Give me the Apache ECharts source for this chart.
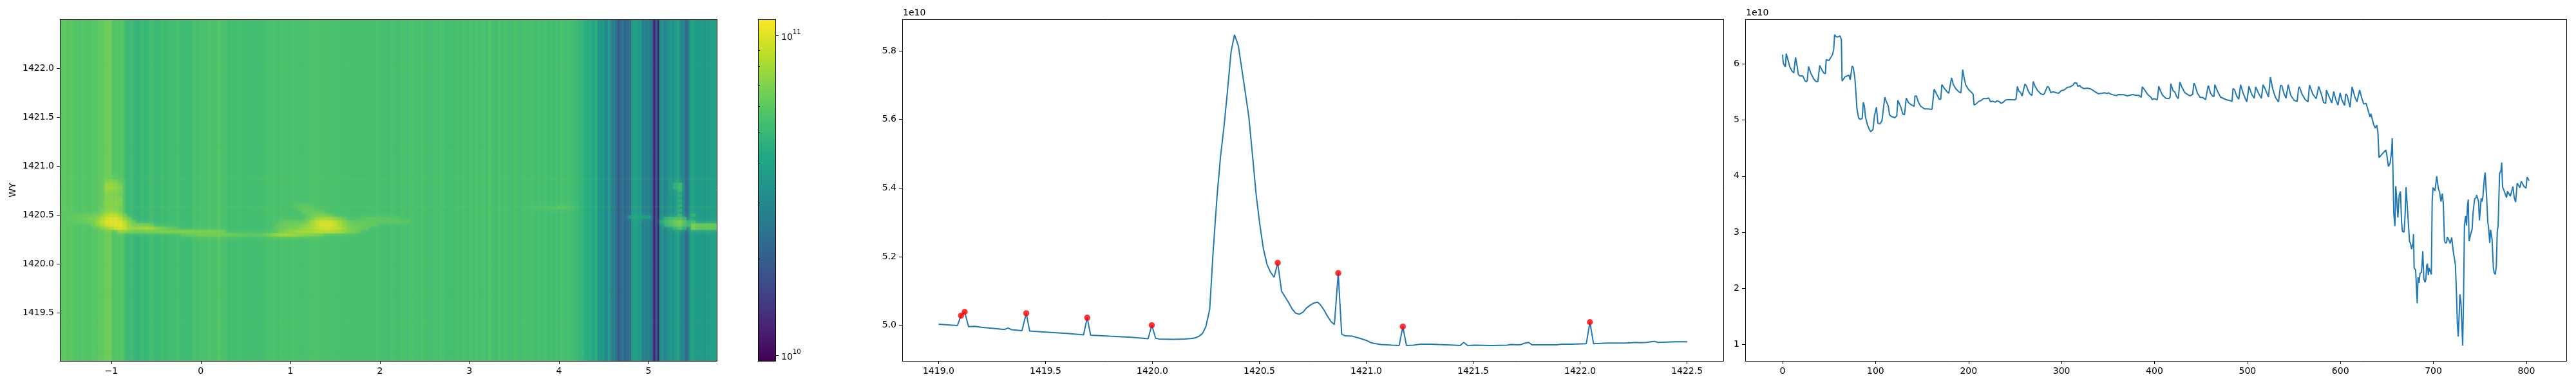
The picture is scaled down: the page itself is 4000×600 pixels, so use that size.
<!DOCTYPE html>
<html><head><meta charset="utf-8">
<style>html,body{margin:0;padding:0;background:#fff}#c{width:4000px;height:600px}</style>
<script src="https://cdn.jsdelivr.net/npm/echarts@6/dist/echarts.min.js"></script>
</head><body><div id="c"></div>
<script>
// ---- tick labels ----
const imgXTicks=[-1,0,1,2,3,4,5];
const imgYTicks=[1419.5,1420,1420.5,1421,1421.5,1422];
const profXTicks=[1419,1419.5,1420,1420.5,1421,1421.5,1422,1422.5];
const profYTicks=[5,5.2,5.4,5.6,5.8];
const scanXTicks=[0,100,200,300,400,500,600,700,800];
const scanYTicks=[1,2,3,4,5,6];
const cbarMajor=[10,11];
const cbarMinor=[2e10,3e10,4e10,5e10,6e10,7e10,8e10,9e10];

// ---- middle panel: profile vs WY (units of 1e10) ----
const profileX=[1419,1419.088,1419.105,1419.122,1419.14,1419.17,1419.2,1419.25,1419.3,1419.31,1419.325,1419.34,1419.39,1419.41,1419.426,1419.5,1419.6,1419.678,1419.695,1419.711,1419.8,1419.9,1419.98,1419.997,1420.015,1420.03,1420.1,1420.15,1420.18,1420.2,1420.218,1420.234,1420.25,1420.268,1420.284,1420.302,1420.318,1420.334,1420.35,1420.368,1420.384,1420.402,1420.418,1420.435,1420.451,1420.469,1420.485,1420.502,1420.519,1420.536,1420.552,1420.569,1420.586,1420.604,1420.62,1420.636,1420.654,1420.67,1420.687,1420.704,1420.72,1420.737,1420.755,1420.772,1420.785,1420.8,1420.816,1420.835,1420.851,1420.869,1420.885,1420.902,1420.935,1420.969,1421.004,1421.019,1421.035,1421.068,1421.12,1421.154,1421.171,1421.188,1421.221,1421.254,1421.304,1421.338,1421.41,1421.439,1421.456,1421.474,1421.506,1421.585,1421.66,1421.675,1421.71,1421.725,1421.743,1421.759,1421.775,1421.825,1421.891,1421.916,1421.96,1422.029,1422.046,1422.063,1422.129,1422.21,1422.241,1422.263,1422.28,1422.31,1422.348,1422.364,1422.448,1422.501];
const profileY=[5.003,4.999,5.028,5.039,4.996,4.997,4.994,4.991,4.988,4.988,4.992,4.987,4.984,5.035,4.983,4.98,4.976,4.972,5.022,4.971,4.968,4.965,4.9605,5,4.962,4.96,4.959,4.96,4.961,4.963,4.968,4.976,4.996,5.047,5.216,5.374,5.489,5.575,5.676,5.798,5.847,5.814,5.747,5.676,5.607,5.489,5.381,5.295,5.223,5.177,5.155,5.14,5.182,5.099,5.083,5.067,5.047,5.035,5.032,5.038,5.05,5.058,5.065,5.067,5.06,5.047,5.029,5.011,5.002,5.152,4.974,4.969,4.968,4.962,4.955,4.95,4.947,4.944,4.942,4.941,4.996,4.941,4.942,4.945,4.945,4.944,4.942,4.941,4.95,4.941,4.942,4.941,4.942,4.944,4.943,4.944,4.948,4.95,4.943,4.943,4.943,4.945,4.945,4.946,5.009,4.946,4.948,4.948,4.949,4.95,4.949,4.95,4.953,4.95,4.952,4.952];
const peakX=[1419.105,1419.122,1419.41,1419.695,1419.997,1420.586,1420.869,1421.171,1422.046];
const peakY=[5.028,5.039,5.035,5.022,5,5.182,5.152,4.996,5.009];

// ---- right panel: scan profile (units of 1e10) ----
const scanIdx=[0,0.7,1.8,3,3.9,4.8,6.5,7.8,9,10.2,12,13.9,15.7,16.9,18.7,21.7,23.8,25.6,26.5,27.9,30.2,33.7,36,37.9,39.9,42.5,44.6,46,46.9,48,49.9,51.5,53.6,55,55.9,57.3,59,61.9,63.2,64,65,67.2,69.5,70.6,71.3,72.7,73.9,74.8,76,77.6,79,79.9,81.7,83.3,85.6,86.8,88,89.1,91.4,93,94.6,97.2,98.8,100,100.9,102.5,104.6,106.9,108,109.9,111.7,113.6,115,116.8,119,120.5,122.8,124,125.3,127.2,129.3,131.1,133,135.3,138,141.5,142.4,144,145.9,148.4,152.6,156,157.2,160.7,163,166.4,168.7,170.1,171.3,174,176.3,178.7,180,181.7,183.7,186.5,189.5,191.8,193.7,195.3,196.9,199.9,203.4,205,205.9,208,211,213.7,216,219.5,221.8,223.7,225.7,228.7,230.4,232.7,235.2,237.3,239.6,241.9,243,246,249.5,251.1,252.5,254.1,255.8,257.6,258.5,260.6,262.2,264,266.4,268.2,269.6,271.5,274.2,277.9,280.2,281.8,284.8,286.2,288.5,291.1,294.5,296.8,299.6,302.6,306.5,309.5,312.5,313.7,316.2,317.6,319.5,320.6,323.8,327.9,331.5,335,339.5,346.5,348.8,350.6,353.4,359.2,361,367.2,370.7,376.5,380,383.4,385.7,386.9,387.8,389.6,392.6,396.1,397.7,399.1,403,404.6,406.5,408.8,412.3,415.7,416.9,417.6,419.9,422,423.8,425.6,427.3,429.3,432.6,435.3,438.1,441.1,442.3,443.4,446.2,449.2,452,455,456.1,457.3,458,460.3,462.6,464,464.9,467.7,471.1,474.6,476.9,480.4,483.4,484.5,486.1,488.4,490.7,492.6,495.4,497.7,499.3,501.6,504.6,507.4,508.8,509.9,512.7,515,516.8,519.6,522.6,524.7,527.2,530,533.4,534.6,535.5,536.9,539.2,541.5,543.8,546.6,550.3,553.5,554.9,555.8,558.8,562.3,565.1,566.7,570.4,574,575,576.6,579.6,581.9,584.2,584.9,586.1,588.2,590.7,592.8,595.1,597.4,599.7,601.5,604.5,605.7,607.3,610.3,612.6,615.4,617.7,618.9,620.7,623.5,625.1,627.5,629.7,631.8,632.8,635.9,637.4,639,640.3,641.5,643.6,644.5,646.6,648.9,650,651.6,653.5,655.1,655.8,656.7,657.4,658.6,659.5,660.6,661.8,663.2,664.6,665.7,666.6,668.5,669.6,670.6,671.7,673.1,674.3,675.4,676.6,678.2,678.6,679.3,680.9,681.6,682.6,683.5,684.6,685.6,687,687.7,688.6,689.7,691.1,692,692.7,693.6,694.6,695.5,696.7,697.8,698.7,699.6,700.8,701.7,703.6,705.4,706.6,708.2,708.9,709.6,710.7,711.9,712.8,714.2,714.9,717,718.1,719.7,721.6,723.7,725,725.7,726.7,727.8,728.5,729.7,730.6,731.5,732.4,733.4,734.7,735.7,736.6,737.5,738.4,740,741.7,742.6,743.5,744.4,746,746.5,748.6,749.5,750.2,751.4,752.3,753.2,754.8,755.7,757.4,758.5,759.4,760.6,761.5,763.1,764.5,765.4,766.6,767.7,768.7,769.6,771.2,772.6,773.5,774.4,775.4,776.5,777.7,778.6,779.7,782.8,783.9,785.5,786.9,788.5,790.1,791.3,793.1,794.5,795.4,797.3,799.6,800.8,802.8];
const scanVal=[6.166,6.013,5.983,5.948,6.185,6.166,6.03,5.945,5.925,5.872,5.84,6.117,5.956,5.81,5.788,5.788,5.708,5.68,5.708,5.956,5.84,5.727,5.688,5.685,5.975,5.887,5.834,5.826,6.078,6.086,6.063,6.109,6.166,6.262,6.522,6.491,6.48,6.499,6.434,5.696,5.688,5.772,5.788,5.772,5.803,5.719,5.708,5.964,5.937,5.765,5.459,5.211,5.039,5.012,5.027,5.318,5.249,5.058,4.905,4.847,4.794,4.829,5.077,5.085,5.23,4.943,4.932,4.989,4.993,5.409,5.325,5.256,5.096,5.065,5.054,5.039,5.077,5.352,5.352,5.23,5.108,5.096,5.394,5.314,5.276,5.245,5.428,5.428,5.325,5.249,5.199,5.2,5.184,5.191,5.551,5.44,5.367,5.375,5.631,5.566,5.516,5.478,5.486,5.753,5.631,5.555,5.505,5.486,5.899,5.746,5.631,5.547,5.49,5.459,5.268,5.287,5.333,5.352,5.383,5.383,5.394,5.325,5.337,5.318,5.344,5.333,5.298,5.318,5.356,5.364,5.344,5.364,5.36,5.375,5.6,5.516,5.497,5.428,5.44,5.642,5.612,5.528,5.459,5.44,5.688,5.604,5.528,5.467,5.451,5.478,5.6,5.585,5.489,5.505,5.486,5.478,5.524,5.536,5.585,5.593,5.623,5.661,5.665,5.6,5.619,5.593,5.562,5.57,5.555,5.516,5.47,5.486,5.474,5.486,5.459,5.436,5.455,5.451,5.432,5.455,5.44,5.44,5.405,5.593,5.612,5.535,5.459,5.409,5.363,5.383,5.363,5.604,5.516,5.44,5.39,5.383,5.42,5.65,5.527,5.497,5.42,5.383,5.677,5.593,5.49,5.459,5.432,5.459,5.658,5.631,5.478,5.405,5.402,5.364,5.356,5.574,5.616,5.478,5.428,5.42,5.631,5.516,5.409,5.383,5.364,5.352,5.333,5.562,5.543,5.428,5.371,5.631,5.478,5.383,5.325,5.604,5.459,5.39,5.593,5.604,5.451,5.39,5.631,5.535,5.409,5.765,5.555,5.409,5.325,5.325,5.612,5.619,5.478,5.39,5.631,5.44,5.352,5.333,5.562,5.593,5.459,5.363,5.325,5.623,5.459,5.383,5.363,5.6,5.459,5.314,5.298,5.535,5.524,5.402,5.306,5.509,5.363,5.268,5.486,5.363,5.26,5.463,5.436,5.23,5.593,5.42,5.325,5.325,5.535,5.363,5.287,5.302,5.179,5.056,5.113,4.911,4.859,4.911,4.79,4.331,4.37,4.35,4.427,4.465,4.37,4.171,4.236,4.465,4.676,4.676,3.338,3.108,3.823,3.586,3.261,3.662,3.727,3.204,3.02,3.001,3.318,3.804,3.808,3.165,2.841,2.802,2.699,2.821,2.967,2.363,2.325,2.332,1.732,2.198,2.095,2.267,2.286,2.401,2.661,2.172,2.107,2.172,2.401,2.439,2.237,2.363,2.344,2.248,3.567,3.796,3.777,3.739,3.999,3.777,3.72,3.548,3.54,3.689,3.51,2.86,2.81,2.81,2.917,2.848,2.802,2.906,2.63,2.42,1.828,1.407,1.14,1.56,1.896,1.732,1.744,0.979,1.79,3.127,3.288,3.12,3.452,3.586,2.841,2.955,3.059,3.338,3.318,3.597,3.617,3.662,3.548,3.211,3.223,3.605,3.548,3.624,3.961,4.064,3.586,3.185,3.081,2.81,3.043,2.879,2.363,2.279,2.248,2.401,3.013,3.108,4.052,4.09,4.244,3.808,3.796,3.72,3.708,3.617,3.731,3.643,3.643,3.815,3.624,3.536,3.873,3.861,3.796,3.911,3.922,3.823,3.785,3.984,3.92];
const scanColumns=803;

// ---- left panel: ridge cells: [WY, first x, intensities in 1e10, one per 0.05 of x] ----
const ridgeRows=[
[1420.90,-1.05,[6.4,6.4,6.1]],
[1420.85,-1.05,[6.8,7.0,6.6,6.1]],
[1420.817,-1.05,[7.5,7.7,7.3,6.6]],
[1420.783,-1.05,[7.8,8.0,7.6,7.0]],
[1420.75,-1.05,[7.4,7.4,7.3,6.9]],
[1420.717,-1.05,[7.0,7.0,6.9,6.5]],
[1420.683,-1.05,[7.0,7.1,7.1,6.8]],
[1420.65,-1.05,[7.1,7.2,7.3,7.0]],
[1420.617,-1.05,[7.2,7.3,7.4,7.0]],
[1420.583,-1.05,[7.0,7.2,7.0,6.6]],
[1420.55,-1.1,[6.6,7.2,7.4,7.2,6.7]],
[1420.517,-1.1,[6.7,7.4,7.8,7.6,6.9]],
[1420.50,-1.55,[6.0,6.0,6.1,6.1,6.2,6.2,6.3,6.4,6.6,7.2,8.2,8.6,8.6,7.6,6.5]],
[1420.467,-1.55,[6.0,6.1,6.2,6.3,6.4,6.5,6.7,6.9,7.2,8.2,9.6,10.2,10.1,9.1,7.4,6.4]],
[1420.433,-1.4,[6.0,6.2,6.3,6.5,6.9,7.8,9.2,10.4,10.7,10.7,10.3,8.7,7.1,6.3]],
[1420.40,-1.2,[6.6,7.2,8.2,9.4,10.1,10.5,10.6,9.3,7.6,7.0,6.8,6.8,6.6,6.3]],
[1420.367,-1.1,[7.0,7.4,8.2,9.2,10.3,9.3,8.2,7.8,7.9,8.0,8.2,8.1,7.4,6.9,6.5,6.2,6.0]],
[1420.333,-0.9,[7.2,7.0,6.7,6.5,6.5,6.5,6.7,6.7,6.9,7.0,7.1,7.1,7.0,7.0,7.1,7.1,7.0,6.9,6.9,6.9,6.9,6.7,6.6,6.5]],
[1420.30,-0.2,[6.0,6.1,6.2,6.3,6.6,6.7,6.7,6.7,6.7,6.6,6.6,6.5,6.4,6.3,6.2,6.1,6.1,6.2,6.3,6.7,7.3,7.8,8.1,8.2,8.1,7.8,7.5,7.2,7.0,6.7,6.5,6.3]],
[1420.333,0.9,[6.7,7.0,7.4,7.8,8.2,8.2,8.3,8.4,8.6,8.6,8.7,8.6,8.4,8.1,7.6,7.0,6.7,6.3]],
[1420.367,0.85,[6.0,6.4,6.6,6.8,6.8,7.0,7.4,7.9,8.4,9.0,9.5,9.8,9.7,9.3,8.7,7.9,7.2,6.8,6.6,6.4,6.2]],
[1420.40,0.85,[6.0,6.2,6.4,6.5,6.5,6.8,7.1,7.6,8.3,9.3,10.1,10.3,10.1,9.4,8.4,7.4,6.8,6.5,6.4,6.3,6.3,6.2,6.1]],
[1420.433,0.9,[6.1,6.3,6.4,6.3,6.1,6.3,6.7,8.0,9.2,9.8,10.0,9.8,9.1,8.2,7.2,6.5,6.2,6.1,6.1,6.2,6.2,6.2,6.1,6.1,6.0,6.1,6.1,6.0,6.0]],
[1420.467,1.2,[6.3,6.8,7.6,8.0,8.0,7.8,7.2,6.7,6.2]],
[1420.467,1.8,[5.9,6.0,6.1,6.1,6.0,6.0,6.0,5.9,5.9]],
[1420.50,1.2,[6.1,6.5,6.7,6.7,6.5,6.1]],
[1420.533,1.15,[6.1,6.3,6.4,6.3,6.0]],
[1420.567,1.1,[6.0,6.2,6.3,6.1]],
[1420.60,1.05,[5.9,6.0,6.1,5.9]],
[1420.58,3.7,[5.6,5.7,5.7,5.8,5.8,5.9,6.0,6.0,5.9,5.6]],
[1420.48,4.8,[4.0,4.3,4.1,3.9,3.8]],
[1420.817,5.3,[4.6,5.2]],
[1420.783,5.3,[4.8,5.4]],
[1420.75,5.35,[5.0]],
[1420.7,5.35,[4.7]],
[1420.65,5.35,[4.7]],
[1420.6,5.35,[4.8]],
[1420.55,5.35,[4.7]],
[1420.5,5.35,[4.8]],
[1420.467,5.2,[4.8,5.2,5.5,5.7,4.8]],
[1420.433,5.15,[4.5,5.4,6.0,6.6,7.2,6.0,4.7,5.3]],
[1420.40,5.2,[5.0,5.7,6.2,6.8,5.6,5.0,7.2,6.6,6.5,6.6,6.6,6.6]],
[1420.367,5.3,[4.8,5.6,4.5,0,7.0,6.2,6.2,6.3,6.3,6.3]],
[1420.5,5.5,[4.8]]
];
const ridgeStep=[0.05,0.0333];

// ---- axis ranges ----
const imgXRange=[-1.574,5.763], imgYRange=[1419.01,1422.505];
const profXRange=[1418.83,1422.67], profYRange=[4.896,5.892];
const scanXRange=[-40.2,843], scanYRange=[0.706,6.797];
const cbarRange=[Math.log10(9.59e9),Math.log10(1.126e11)];

// ---- viridis ----
const viridis=['#440154','#482475','#414487','#355f8d','#2a788e','#21918c','#22a884','#44bf70','#7ad151','#bddf26','#fde725'];
const rgb=viridis.map(h=>[1,3,5].map(i=>parseInt(h.substr(i,2),16)));
function cmap(v){ // v in units of 1e10
  let t=(Math.log10(v*1e10)-cbarRange[0])/(cbarRange[1]-cbarRange[0]);
  t=Math.max(0,Math.min(1,t))*10;
  const i=Math.min(9,Math.floor(t)),f=t-i;
  return 'rgb('+[0,1,2].map(k=>Math.round(rgb[i][k]+(rgb[i+1][k]-rgb[i][k])*f)).join(',')+')';
}

// build tables for the library
const colX=i=>imgXRange[0]+i*(imgXRange[1]-imgXRange[0])/scanColumns;
const baseData=scanIdx.map((idx,k)=>{
  const a=k===0?0:(scanIdx[k-1]+idx)/2, b=k===scanIdx.length-1?scanColumns:(idx+scanIdx[k+1])/2;
  return [colX(a),colX(b),scanVal[k]];
});
const cellData=[];
ridgeRows.forEach(r=>r[2].forEach((v,k)=>{ if(v>0) cellData.push([r[1]+k*ridgeStep[0],r[0],v]); }));
cellData.sort((a,b)=>a[2]-b[2]);
const rowData=peakX.map((x,k)=>[x,peakY[k]]);

const FONT='"DejaVu Sans"';
const grids=[
 {left:93,top:30,width:1020,height:531},
 {left:1177,top:30,width:27,height:531},
 {left:1401,top:30,width:1275,height:531},
 {left:2710,top:30,width:1275,height:531}
];
const lineSt={show:true,onZero:false,lineStyle:{color:'#000',width:1}};
const tickSt=(vals,len)=>({show:true,length:len||5,customValues:vals,lineStyle:{color:'#000',width:1}});
const lab=(vals,fmt,m)=>({show:true,customValues:vals,formatter:fmt,color:'#000',fontFamily:FONT,fontSize:14,margin:m||9,hideOverlap:false});
function frameX(g,range){return {type:'value',gridIndex:g,position:'top',min:range[0],max:range[1],z:5,axisLine:lineSt,axisTick:{show:false},axisLabel:{show:false},splitLine:{show:false}};}
function frameY(g,range){return {type:'value',gridIndex:g,position:'right',min:range[0],max:range[1],z:5,axisLine:lineSt,axisTick:{show:false},axisLabel:{show:false},splitLine:{show:false}};}
function mainX(g,range,ticks,fmt){return {type:'value',gridIndex:g,position:'bottom',min:range[0],max:range[1],z:5,axisLine:lineSt,axisTick:tickSt(ticks),axisLabel:lab(ticks,fmt),splitLine:{show:false}};}
function mainY(g,range,ticks,fmt){return {type:'value',gridIndex:g,position:'left',min:range[0],max:range[1],z:5,axisLine:lineSt,axisTick:tickSt(ticks),axisLabel:lab(ticks,fmt),splitLine:{show:false}};}
const signed=v=>String(v).replace('-','\u2212');
const f1=v=>Number(v).toFixed(1);

const option={
 animation:false,
 backgroundColor:'#fff',
 title:[
  {text:'1e10',left:1402,top:13,padding:0,textStyle:{fontFamily:FONT,fontSize:14,fontWeight:'normal',color:'#000'}},
  {text:'1e10',left:2711,top:13,padding:0,textStyle:{fontFamily:FONT,fontSize:14,fontWeight:'normal',color:'#000'}}
 ],
 grid:grids,
 xAxis:[
  mainX(0,imgXRange,imgXTicks,signed),
  frameX(0,imgXRange),
  {type:'value',gridIndex:1,min:0,max:1,z:5,axisLine:lineSt,axisTick:{show:false},axisLabel:{show:false},splitLine:{show:false}},
  frameX(1,[0,1]),
  mainX(2,profXRange,profXTicks,f1),
  frameX(2,profXRange),
  mainX(3,scanXRange,scanXTicks,v=>String(v)),
  frameX(3,scanXRange)
 ],
 yAxis:[
  Object.assign(mainY(0,imgYRange,imgYTicks,f1),{name:'WY',nameLocation:'middle',nameGap:66,nameTextStyle:{fontFamily:FONT,fontSize:14,color:'#000'}}),
  frameY(0,imgYRange),
  {type:'value',gridIndex:1,position:'left',min:cbarRange[0],max:cbarRange[1],z:5,axisLine:lineSt,axisTick:{show:false},axisLabel:{show:false},splitLine:{show:false}},
  {type:'value',gridIndex:1,position:'right',min:cbarRange[0],max:cbarRange[1],z:5,axisLine:lineSt,
    axisTick:tickSt(cbarMajor),
    axisLabel:{show:true,customValues:cbarMajor,margin:9,hideOverlap:false,
      formatter:v=>'{a|10}{b|'+Math.round(v)+'}',
      rich:{a:{fontFamily:FONT,fontSize:14,color:'#000',lineHeight:20,verticalAlign:'bottom'},b:{fontFamily:FONT,fontSize:10,color:'#000',lineHeight:20,verticalAlign:'top',padding:[0,0,8,0]}}},
    splitLine:{show:false}},
  {type:'value',gridIndex:1,position:'right',min:cbarRange[0],max:cbarRange[1],z:5,axisLine:{show:false},
    axisTick:{show:true,length:3,customValues:cbarMinor.map(v=>Math.log10(v)),lineStyle:{color:'#000',width:1}},axisLabel:{show:false},splitLine:{show:false}},
  mainY(2,profYRange,profYTicks,f1),
  frameY(2,profYRange),
  mainY(3,scanYRange,scanYTicks,v=>String(v)),
  frameY(3,scanYRange)
 ],
 series:[
  {type:'custom',name:'image columns',xAxisIndex:0,yAxisIndex:0,clip:true,progressive:0,silent:true,z:1,
   data:baseData,encode:{x:[0,1]},
   renderItem(p,api){
     const a=api.coord([api.value(0),imgYRange[1]]),b=api.coord([api.value(1),imgYRange[0]]);
     return {type:'rect',shape:{x:a[0],y:a[1],width:b[0]-a[0]+0.7,height:b[1]-a[1]},style:{fill:cmap(api.value(2))}};
   }},
  {type:'custom',name:'image rows',xAxisIndex:0,yAxisIndex:0,clip:true,progressive:0,silent:true,z:2,
   data:rowData,encode:{y:0},
   renderItem(p,api){
     const a=api.coord([imgXRange[0],api.value(0)]),b=api.coord([imgXRange[1],api.value(0)]);
     return {type:'rect',shape:{x:a[0],y:a[1]-1.3,width:b[0]-a[0],height:2.6},style:{fill:'#b5de2b',opacity:Math.max(0,(api.value(1)-4.97)*0.3)}};
   }},
  {type:'custom',name:'image ridge',xAxisIndex:0,yAxisIndex:0,clip:true,progressive:0,silent:true,z:3,
   data:cellData,encode:{x:0,y:1},
   renderItem(p,api){
     const c=api.coord([api.value(0),api.value(1)]),s=api.size(ridgeStep),col=cmap(api.value(2));
     return {type:'rect',shape:{x:c[0]-s[0]/2,y:c[1]-s[1]/2,width:s[0],height:s[1]},style:{fill:col,opacity:0.8,shadowBlur:7,shadowColor:col}};
   }},
  {type:'custom',name:'colorbar',xAxisIndex:2,yAxisIndex:2,silent:true,z:1,progressive:0,
   data:[[0,1]],encode:{x:[0,1]},
   renderItem(p,api){
     const a=api.coord([0,cbarRange[1]]),b=api.coord([1,cbarRange[0]]);
     const stops=viridis.map((c,i)=>({offset:i/10,color:c}));
     return {type:'rect',shape:{x:a[0],y:a[1],width:b[0]-a[0],height:b[1]-a[1]},
       style:{fill:new echarts.graphic.LinearGradient(0,1,0,0,stops)}};
   }},
  {type:'line',name:'profile',xAxisIndex:4,yAxisIndex:5,symbol:'none',data:profileX.map((x,i)=>[x,profileY[i]]),lineStyle:{color:'#1f77b4',width:2},z:2},
  {type:'scatter',name:'peaks',xAxisIndex:4,yAxisIndex:5,symbol:'circle',symbolSize:9.5,data:peakX.map((x,i)=>[x,peakY[i]]),itemStyle:{color:'#ff0000'},z:3},
  {type:'line',name:'scan',xAxisIndex:6,yAxisIndex:7,symbol:'none',data:scanIdx.map((x,i)=>[x,scanVal[i]]),lineStyle:{color:'#1f77b4',width:2},z:2}
 ]
};
echarts.init(document.getElementById('c'),null,{renderer:'canvas'}).setOption(option);
</script></body></html>
